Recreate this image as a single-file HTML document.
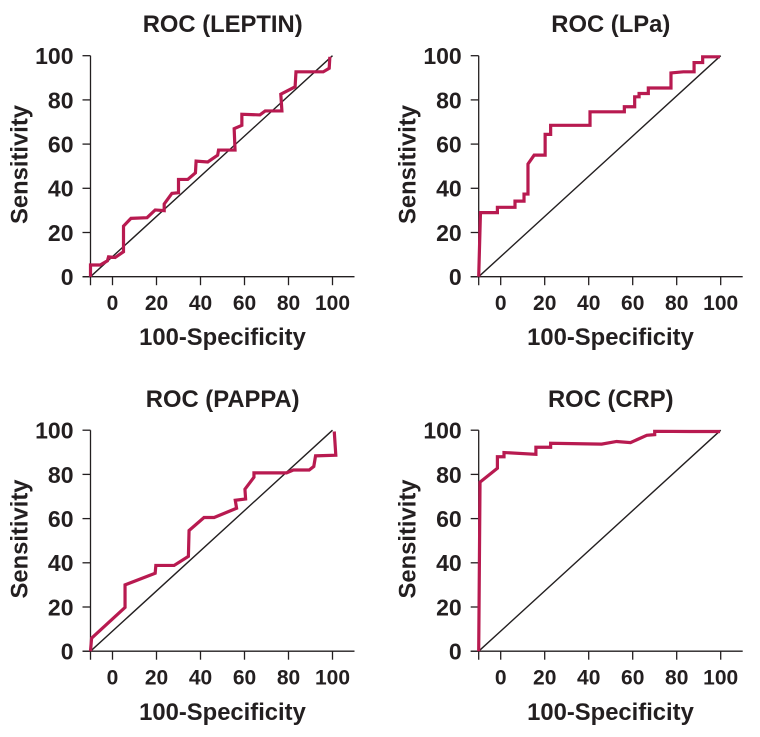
<!DOCTYPE html>
<html lang="en">
<head>
<meta charset="utf-8">
<title>ROC curves</title>
<style>
html,body{margin:0;padding:0;background:#fff;}
svg{display:block;}
text{font-family:"Liberation Sans",Arial,sans-serif;font-weight:bold;fill:#231f20;}
.title,.axis-title{font-size:23.8px;}
.ytick{font-size:23px;}
.xtick{font-size:21px;}
</style>
</head>
<body>
<svg id="chart" width="760" height="737" viewBox="0 0 760 737" xmlns="http://www.w3.org/2000/svg">
<g id="panel-leptin">
<text class="title" x="222.7" y="32" text-anchor="middle">ROC (LEPTIN)</text>
<text class="axis-title" x="222.5" y="345" text-anchor="middle">100-Specificity</text>
<text class="axis-title" transform="translate(27.7 164.5) rotate(-90)" text-anchor="middle">Sensitivity</text>
</g>
<g id="panel-lpa">
<text class="title" x="610.8" y="32" text-anchor="middle">ROC (LPa)</text>
<text class="axis-title" x="610.5" y="345" text-anchor="middle">100-Specificity</text>
<text class="axis-title" transform="translate(415.7 164.5) rotate(-90)" text-anchor="middle">Sensitivity</text>
</g>
<g id="panel-pappa">
<text class="title" x="222.7" y="407" text-anchor="middle">ROC (PAPPA)</text>
<text class="axis-title" x="222.5" y="720" text-anchor="middle">100-Specificity</text>
<text class="axis-title" transform="translate(27.7 539) rotate(-90)" text-anchor="middle">Sensitivity</text>
</g>
<g id="panel-crp">
<text class="title" x="610.8" y="407" text-anchor="middle">ROC (CRP)</text>
<text class="axis-title" x="610.5" y="720" text-anchor="middle">100-Specificity</text>
<text class="axis-title" transform="translate(415.7 539) rotate(-90)" text-anchor="middle">Sensitivity</text>
</g>
</svg>
<script>
var xTickLabels = [0, 20, 40, 60, 80, 100];
var yTickLabels = [0, 20, 40, 60, 80, 100];
var diagonalX = [-10, 100];
var diagonalY = [0, 100];

var leptinSpec = [-10,-10,-5.6,-2.3,-1.8,1.2,5,5,8.4,15.7,19.4,23.5,23.5,27,30,30,34.2,37.7,38,43.3,47.8,48.2,55.7,55.3,58.8,58.8,67,69.4,77,76.5,83,83.4,95.8,98.5,98.8];
var leptinSens = [0,5.3,5.3,7.2,9,8.7,11.3,22.9,26.4,26.7,30.2,29.9,32.9,37.7,38,44,44,47,52.3,51.9,55,57.3,57.3,67,68.5,73.5,73.2,75,75,82.6,85.9,92.7,92.7,94.3,99.5];

var lpaSpec = [-10,-9.2,-1.5,-1.5,6.5,6.5,10.6,10.6,12.4,12.4,15.2,20.2,20.2,22.7,22.7,40.6,40.6,56.2,56.2,60.9,60.9,62.9,62.9,67.1,67.1,77.4,77.4,83,87.9,87.9,91.8,91.8,99.7];
var lpaSens = [0,29,29,31.4,31.4,34.2,34.2,37.4,37.4,51,55,55,64.4,64.4,68.5,68.5,74.6,74.6,76.9,76.9,81.4,81.4,82.9,82.9,85.4,85.4,92.2,92.7,92.7,96.9,96.9,99.5,99.5];

var pappaSpec = [-10,-9.5,5.7,5.7,19.4,19.7,28,34.5,34.8,41.6,46.2,56.4,55.8,60.5,60.2,64.3,64.3,79.1,82.2,89.4,91.5,92.3,101.5,100.8];
var pappaSens = [0,5.9,19.8,30,35.3,38.8,38.8,42.9,54.6,60.5,60.5,64.7,68.3,68.9,73.3,78.7,80.7,80.7,82,82,83.6,88.4,88.7,99.4];

var crpSpec = [-10,-9.4,-1.5,-1.5,1.5,1.5,16,16,22.7,22.7,45.9,52.7,59,66.4,70,70,86,99.7];
var crpSens = [0,76.5,82.8,88,88,89.9,89.1,92.3,92.3,94.1,93.7,94.9,94.4,97.7,98,99.5,99.4,99.4];

var NS = 'http://www.w3.org/2000/svg';

function scaleX(left, v) { return left + (v + 10) * 2.2; }
function scaleY(bottom, v) { return bottom - v * 2.21; }

function tickLine(group, x1, y1, x2, y2) {
  var l = document.createElementNS(NS, 'line');
  
  
  l.setAttribute('x1', x1);
  l.setAttribute('y1', y1);
  l.setAttribute('x2', x2);
  l.setAttribute('y2', y2);
  l.setAttribute('stroke', '#231f20');
  l.setAttribute('stroke-width', '1.3');
  group.appendChild(l);
}

function tickText(group, cls, x, y, anchor, label) {
  var t = document.createElementNS(NS, 'text');
  
  
  t.setAttribute('class', cls);
  t.setAttribute('x', x);
  t.setAttribute('y', y);
  t.setAttribute('text-anchor', anchor);
  t.textContent = label;
  group.appendChild(t);
}

function pathFrom(left, bottom, xs, ys) {
  var d = '';
  for (var i = 0; i < xs.length; i++) {
    d += (i ? 'L' : 'M') + scaleX(left, xs[i]).toFixed(2) + ' ' + scaleY(bottom, ys[i]).toFixed(2);
  }
  return d;
}

function drawPanel(id, left, bottom, xs, ys) {
  var g = document.getElementById(id);
  var x0 = scaleX(left, -10);
  var xEnd = scaleX(left, 110);
  tickLine(g, x0, bottom, xEnd, bottom);
  tickLine(g, x0, scaleY(bottom, 100), x0, bottom + 8.5);
  tickLine(g, x0 - 8, bottom, x0, bottom);
  yTickLabels.forEach(function (v) {
    var y = scaleY(bottom, v);
    tickLine(g, x0 - 8, y, x0, y);
    tickText(g, 'ytick', x0 - 17, y + 8.4, 'end', String(v));
  });
  xTickLabels.forEach(function (v) {
    var x = scaleX(left, v);
    tickLine(g, x, bottom, x, bottom + 8.5);
    tickText(g, 'xtick', x, bottom + 33.5, 'middle', String(v));
  });
  var diag = document.createElementNS(NS, 'path');
  
  
  diag.setAttribute('d', pathFrom(left, bottom, diagonalX, diagonalY));
  diag.setAttribute('fill', 'none');
  diag.setAttribute('stroke', '#231f20');
  diag.setAttribute('stroke-width', '1.4');
  g.appendChild(diag);
  var curve = document.createElementNS(NS, 'path');
  
  
  curve.setAttribute('d', pathFrom(left, bottom, xs, ys));
  curve.setAttribute('fill', 'none');
  curve.setAttribute('stroke', '#b81a50');
  curve.setAttribute('stroke-width', '3.2');
  curve.setAttribute('stroke-linejoin', 'miter');
  g.appendChild(curve);
}

drawPanel('panel-leptin', 90.5, 276.7, leptinSpec, leptinSens);
drawPanel('panel-lpa', 478.7, 276.7, lpaSpec, lpaSens);
drawPanel('panel-pappa', 90.5, 651.2, pappaSpec, pappaSens);
drawPanel('panel-crp', 478.7, 651.2, crpSpec, crpSens);
</script>
</body>
</html>
